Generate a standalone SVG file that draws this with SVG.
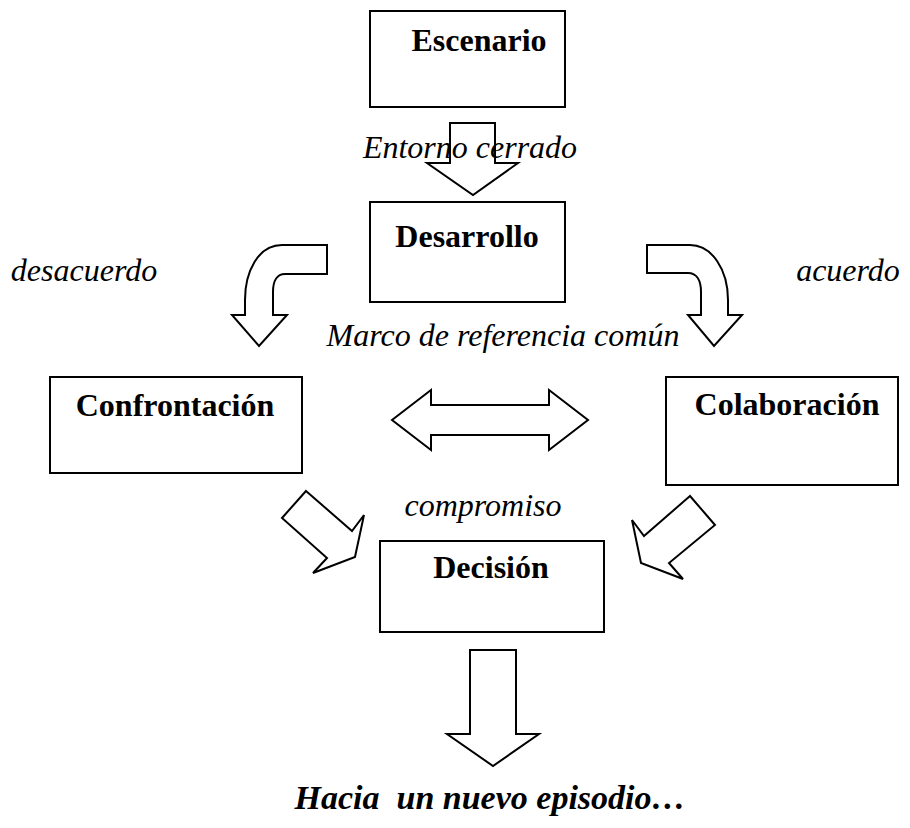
<svg xmlns="http://www.w3.org/2000/svg" width="910" height="828" viewBox="0 0 910 828">
<style>
.box{fill:#fff;stroke:#000;stroke-width:2}
.arr{fill:#fff;stroke:#000;stroke-width:2;stroke-linejoin:miter}
.t{font-family:"Liberation Serif",serif;font-weight:bold;font-size:32px;text-anchor:middle}
.i{font-family:"Liberation Serif",serif;font-style:italic;font-size:32px;text-anchor:middle}
.bi{font-family:"Liberation Serif",serif;font-style:italic;font-weight:bold;font-size:34px;text-anchor:middle;white-space:pre}
</style>
<rect width="910" height="828" fill="#fff"/>
<g id="escenario"><rect class="box" x="370" y="11" width="195" height="96"/><text class="t" x="479" y="51">Escenario</text></g>
<g id="connectors">
<path class="arr" d="M450,123 L495,123 L495,163 L518,163 L473,195 L427,163 L450,163 Z"/>
<path class="arr" d="M327,245 L282,245 C258,245 245,272 245,300 L245,315 L232,315 L259,346 L287,315 L273,315 L273,292 C273,281 277,274 285,274 L327,274 Z"/>
<path class="arr" d="M647,245 L690,245 C712,245 728,270 728,300 L728,315 L742,315 L714,346 L688,315 L701,315 L701,292 C701,281 697,273 688,273 L647,273 Z"/>
<path class="arr" d="M392,420 L431,390 L431,405 L549,405 L549,390 L588,420 L549,450 L549,435 L431,435 L431,450 Z"/>
<path class="arr" d="M306,491 L352,531 L364,515 L355,557 L313,573 L327,558 L282,518 Z"/>
<path class="arr" d="M690,496 L644,536 L632,520 L641,563 L683,579 L669,563 L715,525 Z"/>
<path class="arr" d="M470,650 L516,650 L516,734 L539,734 L493,766 L447,734 L470,734 Z"/>
</g>
<text class="i" x="470" y="158">Entorno cerrado</text>
<g id="desarrollo"><rect class="box" x="370" y="202" width="195" height="100"/><text class="t" x="467" y="247">Desarrollo</text></g>
<text class="i" x="84" y="281">desacuerdo</text>
<text class="i" x="848" y="281">acuerdo</text>
<text class="i" x="503" y="346">Marco de referencia común</text>
<g id="confrontacion"><rect class="box" x="50" y="377" width="252" height="96"/><text class="t" x="175" y="416">Confrontación</text></g>
<g id="colaboracion"><rect class="box" x="666" y="377" width="232" height="108"/><text class="t" x="787" y="415">Colaboración</text></g>
<text class="i" x="483" y="516">compromiso</text>
<g id="decision"><rect class="box" x="380" y="541" width="224" height="91"/><text class="t" x="491" y="578">Decisión</text></g>
<text class="bi" x="490" y="809">Hacia  un nuevo episodio…</text>
</svg>
